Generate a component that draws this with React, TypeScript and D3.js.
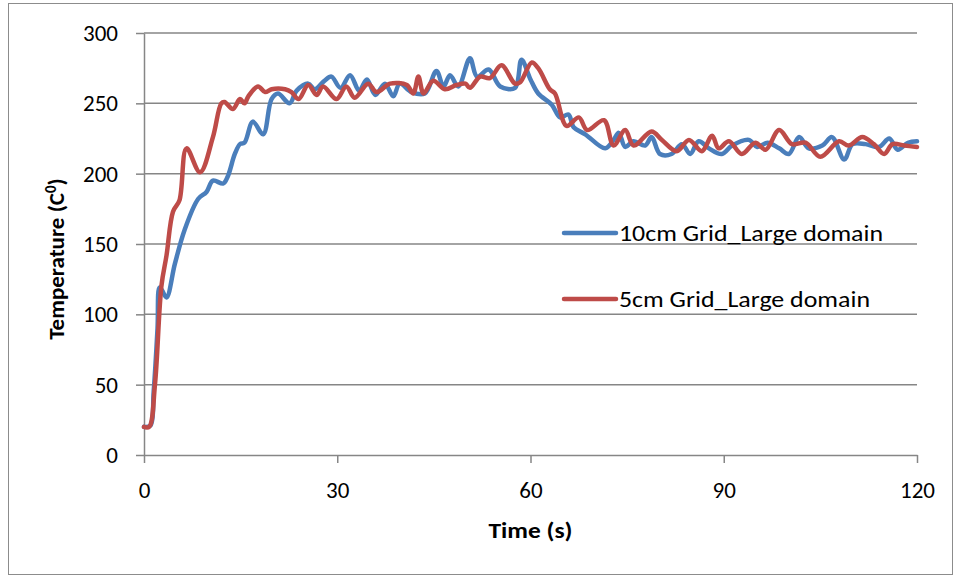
import { useEffect, useRef } from "react";
import * as d3 from "d3";

const timeTicks = [0, 30, 60, 90, 120];
const tempTicks = [0, 50, 100, 150, 200, 250, 300];

const seriesNames = ["10cm Grid_Large domain", "5cm Grid_Large domain"];
const seriesColors = ["#4A7EBB", "#BE4B48"];

// 10cm grid (blue)
const grid10Time = [0, 1.0, 1.5, 2.1, 2.4, 2.8, 3.5, 4.8, 6.3, 8.4, 9.7, 10.7, 12.3, 13, 14.1, 14.9, 15.6, 16.9, 18.5, 19.8, 20.8, 22.6, 23.7, 25.5, 26.5, 28, 29.1, 30.5, 32, 33.4, 34.6, 35.9, 37.4, 38.7, 39.7, 41.5, 43.6, 45.4, 46.5, 47.5, 48.8, 50.6, 51.7, 53.5, 55.3, 57.6, 58.6, 60, 61.2, 63.3, 64.6, 65.9, 66.7, 68.5, 71.6, 72.9, 73.7, 74.7, 76, 77.8, 78.8, 80.1, 81.9, 83.5, 84.8, 86.1, 87.7, 89.7, 91.3, 93.9, 95.2, 96.8, 98.6, 100.1, 101.7, 103.2, 105.3, 106.8, 108.7, 110, 112, 114.1, 115.7, 117, 118.6, 120];
const grid10Temp = [20, 21, 45, 90, 119, 117, 112, 136, 160, 182, 187, 195, 193, 198, 214, 221, 222, 237, 228, 253, 257, 250, 259, 264, 260, 266, 269, 261, 270, 259, 267, 256, 264, 255, 264, 258, 257, 273, 262, 270, 262, 282, 269, 274, 262, 261, 281, 267, 257, 249, 240, 242, 233, 228, 218, 224, 229, 219, 223, 220, 226, 214, 214, 221, 214, 223, 218, 214, 220, 224, 219, 222, 218, 214, 226, 218, 220, 226, 210, 221, 221, 219, 225, 217, 222, 223];

// 5cm grid (red)
const grid5Time = [0, 0.8, 1.7, 2.7, 3.5, 4.5, 5.5, 6.6, 8.7, 10.7, 12, 12.5, 13.8, 14.9, 15.6, 16.2, 17.7, 18.8, 19.8, 21.9, 22.9, 24, 25.5, 26.8, 27.8, 29.9, 31.4, 32.7, 34.8, 36.1, 38.2, 40.8, 41.8, 42.6, 43.4, 44.9, 46.7, 48.5, 49.9, 50.6, 52.2, 53.7, 55.5, 57.6, 58.4, 60.2, 61.2, 63, 63.8, 65.6, 67.5, 68.8, 71.4, 72.9, 74.7, 76, 78.8, 80.4, 82.7, 84.6, 86.6, 88.2, 89.2, 90.8, 92.8, 94.9, 96.5, 98.6, 100.6, 102.7, 105, 107.9, 109.4, 111.5, 113.3, 114.9, 116.2, 118, 120];
const grid5Temp = [20, 20, 50, 120, 142, 173, 181, 218, 201, 226, 250, 251, 246, 253, 250, 255, 262, 258, 260, 260, 258, 253, 263, 256, 262, 253, 262, 254, 264, 258, 264, 263, 257, 269, 257, 266, 260, 263, 264, 261, 269, 268, 277, 264, 265, 279, 275, 260, 257, 234, 240, 231, 238, 220, 231, 220, 230, 224, 216, 224, 216, 227, 218, 223, 214, 222, 217, 231, 221, 222, 212, 223, 220, 226, 221, 214, 221, 220, 219];

const App = () => {
  const svgRef = useRef<SVGSVGElement>(null);

  useEffect(() => {
    const svg = d3.select(svgRef.current);
    svg.selectAll("*").remove();

    const left = 144, right = 917, top = 33, bottom = 455;
    const font = "Calibri, Carlito, 'Open Sans', sans-serif";
    const axisColor = "#868686";

    const x = d3.scaleLinear().domain([0, 120]).range([left, right]);
    const y = d3.scaleLinear().domain([0, 300]).range([bottom, top]);

    // outer chart border
    svg.append("rect").attr("x", 8.5).attr("y", 3.5).attr("width", 944).attr("height", 571)
      .attr("fill", "#fff").attr("stroke", "#8c8c8c").attr("stroke-width", 1);

    // horizontal gridlines
    svg.append("g").selectAll("line").data(tempTicks.slice(1)).join("line")
      .attr("x1", left).attr("x2", right)
      .attr("y1", (d) => y(d)).attr("y2", (d) => y(d))
      .attr("stroke", axisColor).attr("stroke-width", 1.5);

    const yAxis = svg.append("g").attr("transform", `translate(${left},0)`)
      .call(d3.axisLeft(y).tickValues(tempTicks).tickSize(8).tickSizeOuter(0).tickPadding(18));
    const xAxis = svg.append("g").attr("transform", `translate(0,${bottom})`)
      .call(d3.axisBottom(x).tickValues(timeTicks).tickSize(8).tickSizeOuter(0).tickPadding(19));

    [yAxis, xAxis].forEach((g) => {
      g.select(".domain").attr("stroke", axisColor).attr("stroke-width", 1.5);
      g.selectAll(".tick line").attr("stroke", axisColor).attr("stroke-width", 1.5);
      g.selectAll(".tick text").attr("fill", "#000").style("font-size", "23px").style("font-family", font);
    });

    svg.append("text").attr("x", (left + right) / 2).attr("y", 538).attr("text-anchor", "middle")
      .attr("textLength", 84).attr("lengthAdjust", "spacingAndGlyphs")
      .style("font-family", font).style("font-size", "23px").style("font-weight", "bold").text("Time (s)");
    const yTitle = svg.append("text").attr("transform", `translate(64,${(top + bottom) / 2 + 15}) rotate(-90)`)
      .attr("text-anchor", "middle").style("font-family", font).style("font-size", "23px").style("font-weight", "bold");
    yTitle.append("tspan").text("Temperature (C");
    yTitle.append("tspan").attr("dy", -8).style("font-size", "15px").text("0");
    yTitle.append("tspan").attr("dy", 8).text(")");

    const line = d3.line<[number, number]>().x((d) => x(d[0])).y((d) => y(d[1])).curve(d3.curveCatmullRom.alpha(0.5));
    const series = [
      d3.zip(grid10Time, grid10Temp) as [number, number][],
      d3.zip(grid5Time, grid5Temp) as [number, number][],
    ];
    series.forEach((pts, i) => {
      svg.append("path").attr("d", line(pts)).attr("fill", "none")
        .attr("stroke", seriesColors[i]).attr("stroke-width", 4.5)
        .attr("stroke-linejoin", "round").attr("stroke-linecap", "round");
    });

    // legend
    const legendY = [233, 299];
    const legendLen = [264, 251];
    seriesNames.forEach((name, i) => {
      svg.append("line").attr("x1", 564).attr("x2", 616).attr("y1", legendY[i]).attr("y2", legendY[i])
        .attr("stroke", seriesColors[i]).attr("stroke-width", 4.5).attr("stroke-linecap", "round");
      svg.append("text").attr("x", 619).attr("y", legendY[i] + 8)
        .attr("textLength", legendLen[i]).attr("lengthAdjust", "spacingAndGlyphs")
        .style("font-family", font).style("font-size", "23px").text(name);
    });
  }, []);

  return <svg ref={svgRef} width={955} height={576} style={{ position: "absolute", left: 0, top: 0 }}></svg>;
};

export default App;
